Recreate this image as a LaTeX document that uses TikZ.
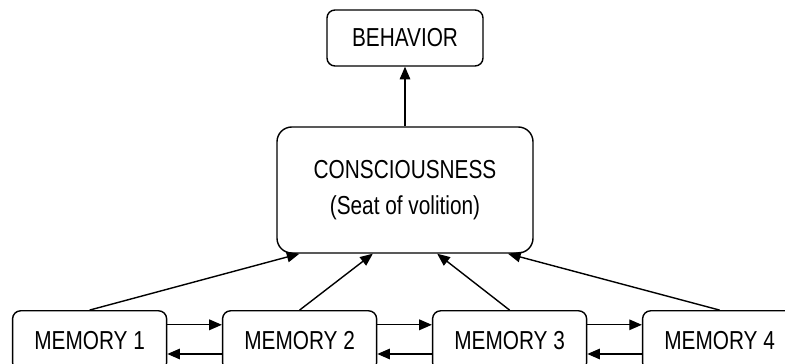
\documentclass[tikz,border=0pt]{standalone}
\usepackage{fontspec}
\setmainfont{Liberation Sans}[FakeStretch=0.8]
\usepackage{tikz}
\usetikzlibrary{arrows.meta}
\usetikzlibrary{calc}
\tikzset{%
  every box/.style={
    draw,
    line width=1pt,
    rounded corners=0.2cm,
    font=\fontsize{18.5}{26}\selectfont,
    inner sep=0pt
  },
  memory box/.style={
    every box,
    minimum width=3.85cm,
    minimum height=1.5cm
  },
  mind box/.style={
    every box,
    rounded corners=0.37cm,
    align=center,
    minimum width=6.4cm,
    minimum height=3.15cm
  },
}

\begin{document}
\begin{tikzpicture}[> = {Triangle[length=9pt,width=7.5pt]}, line width=1pt]
\useasboundingbox (0,0) rectangle (19.625,9.1);
\clip (0,0) rectangle (19.625,9.1);

    \node[every box, minimum width=3.9cm, minimum height=1.4cm] (behavior) at (10.125,8.15) {BEHAVIOR};
    \node[mind box] (mind) at (10.125,4.35) {CONSCIOUSNESS\\(Seat of volition)};

    \foreach \i in {1,2,3,4}
        \node[memory box] (mem_\i) at (2.24+5.25*\i-5.25,0.58) {MEMORY \i};

    \draw[->] (mind.north) -- (behavior.south);

    \foreach \i/\f in {1/0.09,2/0.375,3/0.625,4/0.9}
        \draw[->] (mem_\i.north) -- ($(mind.south west)!\f!(mind.south east)$);

    \foreach \i/\j in {1/2,2/3,3/4}{
        \draw[->] ([yshift=0.4cm]mem_\i.east) -- ([yshift=0.4cm]mem_\j.west);
        \draw[->] ([yshift=-0.33cm]mem_\j.west) -- ([yshift=-0.33cm]mem_\i.east);
    }
\end{tikzpicture}
\end{document}
